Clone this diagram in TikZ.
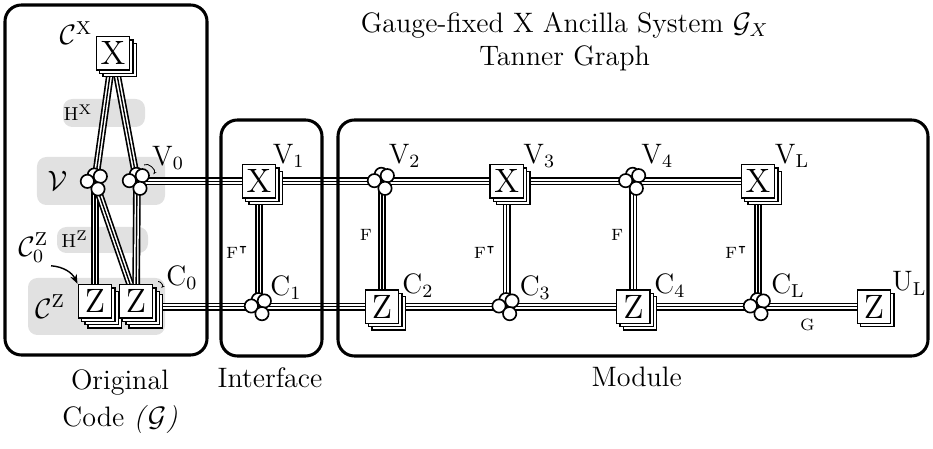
\documentclass[tikz,border=0pt]{standalone}
\usepackage{amsmath}
\usepackage{amssymb}
\usepackage{tikz}
\usetikzlibrary{arrows.meta, positioning, shadows}
\definecolor{regiongray}{RGB}{225,225,225}
\pgfdeclarelayer{bg}
\pgfdeclarelayer{edges}
\pgfsetlayers{bg,edges,main}
\tikzset{
  frame/.style={draw, line width=1.3pt, rounded corners=7pt},
  region/.style={fill=regiongray, rounded corners=4pt},
  stackbox/.style={rectangle, draw, fill=white, line width=0.7pt,
    minimum size=0.5cm, inner sep=0pt, font=\Large},
  shadowopts/.style={shadow xshift=1.4pt, shadow yshift=-1.4pt,
    draw, fill=white, line width=0.6pt},
  onestack/.style={stackbox, copy shadow={shadowopts}},
  xstack/.style={stackbox, double copy shadow={shadowopts}},
  deepstack/.style={stackbox,
    copy shadow={shadowopts, shadow xshift=4.2pt, shadow yshift=-4.2pt},
    double copy shadow={shadowopts}},
  tline/.style={preaction={draw, line width=3.3pt},
    preaction={draw, white, line width=1.9pt}, line width=0.6pt},
  lbl/.style={font=\large, inner sep=1pt},
  hlbl/.style={font=\footnotesize, inner sep=1pt},
  elbl/.style={font=\scriptsize, inner sep=1pt},
  hint/.style={-{Stealth[length=4pt]}, line width=0.6pt},
  tinyhint/.style={-{Stealth[length=1.5pt]}, line width=0.35pt},
  chk/.pic={
    \foreach \a/\b in {-0.1/1.05, -1.15/0.1, 0.8/0.85, 0.45/-1.05}
      \draw[fill=white, line width=0.7pt] (\a mm,\b mm) circle (1mm);
  }
}

\begin{document}
\begin{tikzpicture}
  \useasboundingbox (0,0) rectangle (13.995,-6.735);

  % outer frames
  \draw[frame] (0.075,-0.075) rectangle (3.105,-5.325);
  \draw[frame] (3.315,-1.8) rectangle (4.83,-5.34);
  \draw[frame] (5.07,-1.8) rectangle (13.92,-5.34);

  \node[lbl, align=center] (title) at (8.47,-0.62)
    {Gauge-fixed X Ancilla System $\mathcal{G}_X$\\Tanner Graph};

  % shaded groups of the original code
  \begin{pgfonlayer}{bg}
    \fill[region] (0.945,-1.485) rectangle (2.175,-1.905);
    \fill[region] (0.555,-2.355) rectangle (2.475,-3.075);
    \fill[region] (0.855,-3.405) rectangle (2.22,-3.795);
    \fill[region] (0.42,-4.17) rectangle (2.475,-5.025);
  \end{pgfonlayer}
  \node[hlbl] (lhx) at (1.17,-1.69) {$\mathrm{H}^{\mathrm{X}}$};
  \node[hlbl] (lhz) at (1.12,-3.59) {$\mathrm{H}^{\mathrm{Z}}$};
  \node[lbl] (lvv) at (0.86,-2.72) {$\mathcal{V}$};
  \node[lbl] (lcz) at (0.75,-4.6) {$\mathcal{C}^{\mathrm{Z}}$};
  \node[lbl] (lcx) at (1.14,-0.5) {$\mathcal{C}^{\mathrm{X}}$};
  \node[lbl] (lcz0) at (0.5,-3.72) {$\mathcal{C}^{\mathrm{Z}}_0$};

  % original code
  \node[xstack] (cx) at (1.695,-0.8) {X};
  \coordinate (vl) at (1.425,-2.73);
  \coordinate (vr) at (2.055,-2.72);
  \node[deepstack] (zl) at (1.425,-4.52) {Z};
  \node[deepstack] (zr) at (2.04,-4.52) {Z};

  % interface and module
  \node[xstack] (v1) at (3.885,-2.72) {X};
  \coordinate (v2) at (5.73,-2.72);
  \node[xstack] (v3) at (7.6,-2.72) {X};
  \coordinate (v4) at (9.5,-2.72);
  \node[xstack] (vL) at (11.37,-2.72) {X};
  \coordinate (c1) at (3.885,-4.6);
  \node[xstack] (c2) at (5.73,-4.6) {Z};
  \coordinate (c3) at (7.6,-4.6);
  \node[xstack] (c4) at (9.5,-4.6) {Z};
  \coordinate (cL) at (11.37,-4.6);
  \node[onestack] (uL) at (13.11,-4.6) {Z};

  \foreach \c in {vl, vr, v2, v4, c1, c3, cL}
    \pic at (\c) {chk};

  \node[lbl] (lv0) at (2.52,-2.37) {$\mathrm{V}_0$};
  \node[lbl] (lv1) at (4.33,-2.34) {$\mathrm{V}_1$};
  \node[lbl] (lv2) at (6.07,-2.34) {$\mathrm{V}_2$};
  \node[lbl] (lv3) at (8.09,-2.34) {$\mathrm{V}_3$};
  \node[lbl] (lv4) at (9.86,-2.34) {$\mathrm{V}_4$};
  \node[lbl] (lvL) at (11.88,-2.34) {$\mathrm{V}_{\mathrm{L}}$};
  \node[lbl] (lc0) at (2.73,-4.17) {$\mathrm{C}_0$};
  \node[lbl] (lc1) at (4.29,-4.32) {$\mathrm{C}_1$};
  \node[lbl] (lc2) at (6.27,-4.29) {$\mathrm{C}_2$};
  \node[lbl] (lc3) at (8.03,-4.32) {$\mathrm{C}_3$};
  \node[lbl] (lc4) at (10.05,-4.29) {$\mathrm{C}_4$};
  \node[lbl] (lcL) at (11.82,-4.29) {$\mathrm{C}_{\mathrm{L}}$};
  \node[lbl] (luL) at (13.64,-4.25) {$\mathrm{U}_{\mathrm{L}}$};

  % connectors
  \begin{pgfonlayer}{edges}
    \draw[tline] (cx) -- (vl);
    \draw[tline] (cx) -- (vr);
    \draw[tline] (vl) -- (zl);
    \draw[tline] (vl) -- (zr);
    \draw[tline] (vr) -- (zr);
    \draw[tline] (vr) -- (v1) -- (v2) -- (v3) -- (v4) -- (vL);
    \draw[tline] (c1 -| zr) -- (c1) -- (c2) -- (c3) -- (c4) -- (cL) -- (uL)
      node[elbl, midway, below=4pt] (lg) {$\mathrm{G}$};
    \draw[tline] (v1) -- (c1) node[elbl, midway, left=3pt] (lf1) {$\mathrm{F}^{\intercal}$};
    \draw[tline] (v2) -- (c2) node[elbl, midway, left=3pt] (lf2) {$\mathrm{F}$};
    \draw[tline] (v3) -- (c3) node[elbl, midway, left=3pt] (lf3) {$\mathrm{F}^{\intercal}$};
    \draw[tline] (v4) -- (c4) node[elbl, midway, left=3pt] (lf4) {$\mathrm{F}$};
    \draw[tline] (vL) -- (cL) node[elbl, midway, left=3pt] (lf5) {$\mathrm{F}^{\intercal}$};
  \end{pgfonlayer}

  \draw[hint] (lcz0.south east) to[bend left=30] (zl.north west);
  \draw[tinyhint] ([xshift=3pt,yshift=7pt]vr) to[bend left=80] ([xshift=7pt,yshift=3pt]vr);
  \draw[tinyhint] ([xshift=2pt,yshift=1pt]zr.north east) to[bend left=70] ([xshift=-1pt,yshift=2pt]lc0.south west);

  % group captions
  \node[lbl, align=center, anchor=north] (lorig) at (1.8,-5.5)
    {Original\\[2pt]Code \textit{(}$\mathcal{G}$\textit{)}};
  \node[lbl, anchor=north] (liface) at (4.05,-5.47) {Interface};
  \node[lbl, anchor=north] (lmod) at (9.55,-5.47) {Module};
\end{tikzpicture}
\end{document}
